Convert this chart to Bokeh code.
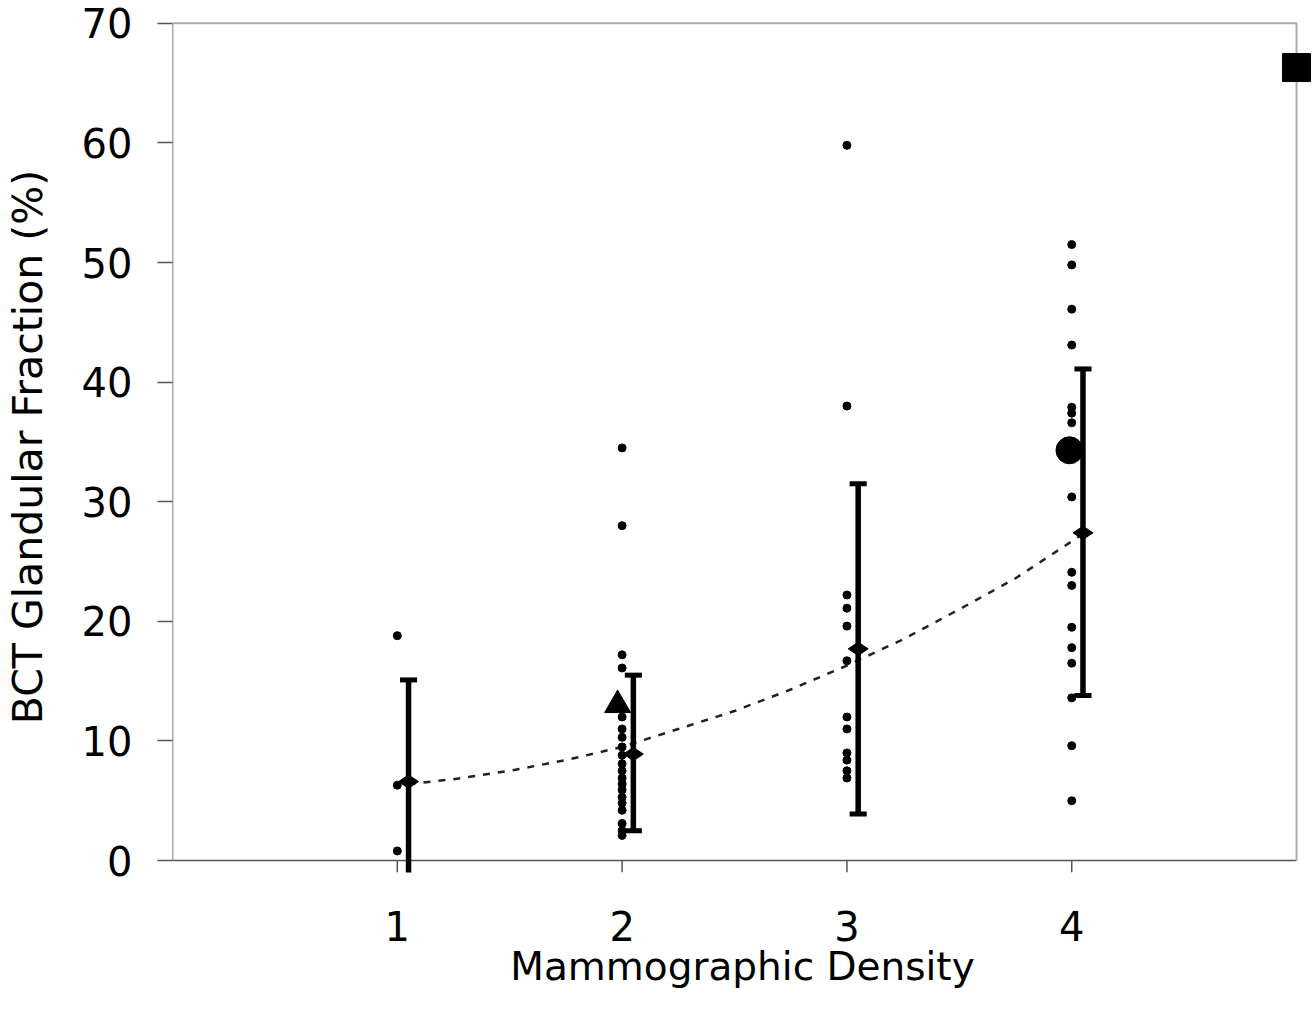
import math
from bokeh.plotting import figure
from bokeh.models import Range1d, FixedTicker
from bokeh.embed import file_html
from bokeh.resources import INLINE

# ---------------- data ----------------
categories = [1, 2, 3, 4]
tick_labels = ["1", "2", "3", "4"]
y_ticks = [0, 10, 20, 30, 40, 50, 60, 70]

cat1_vals = [18.8, 6.3, 0.8]
cat2_vals = [34.5, 28.0, 17.2, 16.1, 12.0, 11.0, 10.3, 9.5, 8.8, 8.1, 7.5,
             6.9, 6.4, 5.9, 5.3, 4.8, 4.2, 3.1, 2.5, 2.1]
cat3_vals = [59.8, 38.0, 22.2, 21.1, 19.6, 16.7, 12.0, 11.0, 9.0, 8.4, 7.5, 6.9]
cat4_vals = [51.5, 49.8, 46.1, 43.1, 37.9, 37.4, 36.6, 30.4, 24.1, 23.0,
             19.5, 17.8, 16.5, 13.6, 9.6, 5.0]

mean_vals = [6.6, 8.9, 17.7, 27.4]
upper_vals = [15.1, 15.5, 31.5, 41.1]
lower_vals = [-2.5, 2.5, 3.9, 13.8]

trend_x = [1.05, 1.25, 1.5, 1.75, 2.0, 2.25, 2.5, 2.75, 3.0, 3.25, 3.5, 3.75, 4.05]
trend_y = [6.4, 6.8, 7.5, 8.4, 9.5, 11.0, 12.5, 14.3, 16.3, 18.5, 21.0, 23.6, 27.3]

triangle_pt = (1.98, 13.0)
circle_pt = (3.99, 34.3)
square_pt = (5.0, 66.3)

# ---------------- layout / style ----------------
X_MAX = 5.0
Y_MAX = 70.0
BAR_OFFSET = 0.05
CAP_HALF = 0.038
FONT = "DejaVu Sans"
AXIS_DARK = "#555555"
BORDER_GRAY = "#aaaaaa"

p = figure(frame_width=1140, frame_height=851,
           x_range=Range1d(0, 5.071), y_range=Range1d(-1.0, 70.15),
           output_backend="svg", toolbar_location=None,
           min_border_left=172, min_border_top=21, min_border_right=0,
           min_border_bottom=136)
p.outline_line_color = None
p.xgrid.visible = False
p.ygrid.visible = False
p.background_fill_color = "white"
p.border_fill_color = "white"

# x axis
p.xaxis.ticker = FixedTicker(ticks=categories)
p.xaxis.major_label_overrides = {c: t for c, t in zip(categories, tick_labels)}
p.xaxis.axis_line_color = None
p.xaxis.major_tick_line_color = None
p.xaxis.minor_tick_line_color = None
p.xaxis.major_tick_out = 0
p.xaxis.major_tick_in = 0
p.xaxis.major_label_standoff = 38
p.xaxis.major_label_text_font = FONT
p.xaxis.major_label_text_font_size = "40px"
p.xaxis.major_label_text_color = "black"
p.xaxis.axis_label = "Mammographic Density"
p.xaxis.axis_label_text_font = FONT
p.xaxis.axis_label_text_font_size = "39px"
p.xaxis.axis_label_text_font_style = "normal"
p.xaxis.axis_label_text_color = "black"
p.xaxis.axis_label_standoff = 0

# y axis
p.yaxis.ticker = FixedTicker(ticks=y_ticks)
p.yaxis.axis_line_color = None
p.yaxis.major_tick_out = 15
p.yaxis.major_tick_in = 0
p.yaxis.major_tick_line_color = AXIS_DARK
p.yaxis.major_tick_line_width = 1.5
p.yaxis.minor_tick_line_color = None
p.yaxis.major_label_standoff = 25
p.yaxis.major_label_text_font = FONT
p.yaxis.major_label_text_font_size = "40px"
p.yaxis.major_label_text_color = "black"
p.yaxis.axis_label = "BCT Glandular Fraction (%)"
p.yaxis.axis_label_text_font = FONT
p.yaxis.axis_label_text_font_size = "41px"
p.yaxis.axis_label_text_font_style = "normal"
p.yaxis.axis_label_text_color = "black"
p.yaxis.axis_label_standoff = 27

# frame lines
p.line([0, 0], [0, Y_MAX], line_color=AXIS_DARK, line_width=1.5)
p.line([0, X_MAX], [0, 0], line_color=AXIS_DARK, line_width=1.5)
p.line([0, X_MAX, X_MAX], [Y_MAX, Y_MAX, 0], line_color=BORDER_GRAY, line_width=2)
# x tick marks below the axis
p.segment(x0=categories, y0=[0] * 4, x1=categories, y1=[-1.0] * 4,
          line_color=AXIS_DARK, line_width=1.5)

# trend line
p.line(trend_x, trend_y, line_color="#222222", line_width=2.5, line_dash="7 8")

# individual points
xs, ys = [], []
for c, vals in zip(categories, [cat1_vals, cat2_vals, cat3_vals, cat4_vals]):
    xs += [c] * len(vals)
    ys += vals
p.scatter(xs, ys, marker="circle", size=8, fill_color="black", line_color="black")

# error bars
bx = [c + BAR_OFFSET for c in categories]
p.segment(x0=bx, y0=lower_vals, x1=bx, y1=upper_vals, line_color="black",
          line_width=5.5, line_cap="butt")
p.segment(x0=[x - CAP_HALF for x in bx], y0=upper_vals,
          x1=[x + CAP_HALF for x in bx], y1=upper_vals,
          line_color="black", line_width=5)
p.segment(x0=[x - CAP_HALF for x in bx], y0=lower_vals,
          x1=[x + CAP_HALF for x in bx], y1=lower_vals,
          line_color="black", line_width=5)
p.scatter(bx, mean_vals, marker="diamond", size=20, angle=math.pi / 2,
          fill_color="black", line_color="black")

# special markers
p.scatter([triangle_pt[0]], [triangle_pt[1]], marker="triangle", size=26,
          fill_color="black", line_color="black")
p.scatter([circle_pt[0]], [circle_pt[1]], marker="circle", size=27,
          fill_color="black", line_color="black")
p.scatter([square_pt[0]], [square_pt[1]], marker="square", size=28,
          fill_color="black", line_color="black")

open("out.html", "w").write(file_html(p, INLINE))
